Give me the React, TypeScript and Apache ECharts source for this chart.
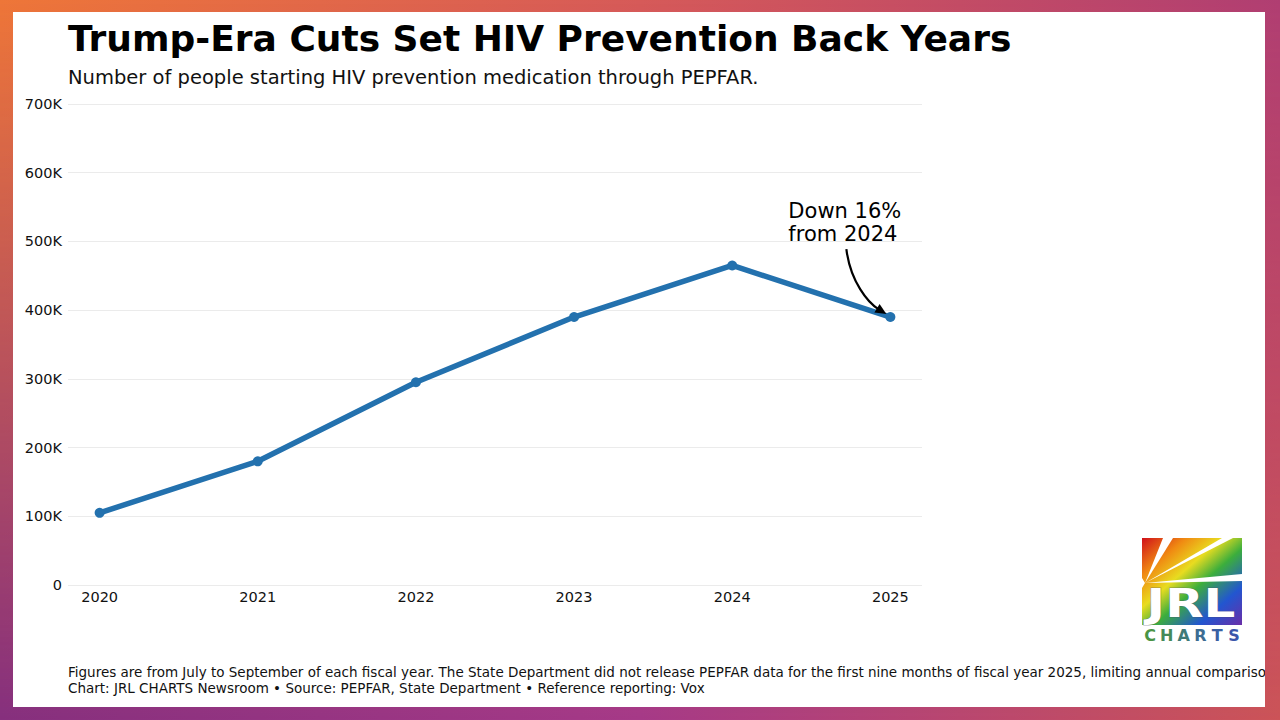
import React, { useEffect, useRef } from "react";
import * as echarts from "echarts";

const years = [2020, 2021, 2022, 2023, 2024, 2025];
const starts = [105000, 180000, 295000, 390000, 465000, 390000];
const yMax = 700000;
const yStep = 100000;

const titleText = "Trump-Era Cuts Set HIV Prevention Back Years";
const subtitleText = "Number of people starting HIV prevention medication through PEPFAR.";
const noteLine1 =
  "Figures are from July to September of each fiscal year. The State Department did not release PEPFAR data for the first nine months of fiscal year 2025, limiting annual comparisons.";
const noteLine2 = "Chart: JRL CHARTS Newsroom \u2022 Source: PEPFAR, State Department \u2022 Reference reporting: Vox";
const annotationText = "Down 16%\nfrom 2024";
const logoLetters = ["C", "H", "A", "R", "T", "S"];
const logoLetterColors = ["#4a9444", "#458a5a", "#407a78", "#3c6c92", "#3a60a2", "#3a56aa"];

const FONT = "'DejaVu Sans', sans-serif";
const LINE = "#2371ae";

export default function App() {
  const ref = useRef<HTMLDivElement>(null);

  useEffect(() => {
    if (!ref.current) return;
    const chart = echarts.init(ref.current, null, { renderer: "svg" });
    const data = years.map((y, i) => [y, starts[i]]);

    chart.setOption({
      animation: false,
      backgroundColor: "#ffffff",
      textStyle: { fontFamily: FONT },
      grid: { left: 55, right: 343, top: 92, bottom: 122, containLabel: false },
      xAxis: {
        type: "value",
        min: years[0] - 0.2,
        max: years[years.length - 1] + 0.2,
        axisLine: { show: false },
        axisTick: { show: false },
        splitLine: { show: false },
        axisLabel: {
          customValues: years,
          formatter: (v: number) => String(Math.round(v)),
          color: "#111",
          fontSize: 14.5,
          fontFamily: FONT,
          margin: 4,
        },
      },
      yAxis: {
        type: "value",
        min: 0,
        max: yMax,
        interval: yStep,
        axisLine: { show: false },
        axisTick: { show: false },
        splitLine: { show: true, lineStyle: { color: "#ebebeb", width: 1 } },
        axisLabel: {
          formatter: (v: number) => (v === 0 ? "0" : v / 1000 + "K"),
          color: "#111",
          fontSize: 14.5,
          fontFamily: FONT,
          margin: 6,
        },
      },
      series: [
        {
          type: "line",
          data,
          lineStyle: { color: LINE, width: 5.5 },
          itemStyle: { color: LINE },
          symbol: "circle",
          symbolSize: 10,
          z: 3,
        },
      ],
      graphic: [
        {
          id: "title",
          type: "text",
          left: 55,
          top: 8,
          style: { text: titleText, font: `bold 36px ${FONT}`, fill: "#000" },
        },
        {
          id: "subtitle",
          type: "text",
          left: 55,
          top: 55,
          style: { text: subtitleText, font: `19.5px ${FONT}`, fill: "#111" },
        },
        {
          id: "note1",
          type: "text",
          left: 55,
          top: 653,
          style: { text: noteLine1, font: `13.5px ${FONT}`, fill: "#111" },
        },
        {
          id: "note2",
          type: "text",
          left: 55,
          top: 669,
          style: { text: noteLine2, font: `13.5px ${FONT}`, fill: "#111" },
        },
        {
          id: "logoGroup",
          type: "group",
          x: 1129,
          y: 526,
          children: [
            {
              type: "rect",
              shape: { x: 0, y: 0, width: 100, height: 87 },
              style: {
                fill: new echarts.graphic.LinearGradient(0, 0, 1, 1, [
                  { offset: 0, color: "#d0101a" },
                  { offset: 0.22, color: "#f08a12" },
                  { offset: 0.4, color: "#e8dc20" },
                  { offset: 0.56, color: "#3cae3c" },
                  { offset: 0.78, color: "#2256d0" },
                  { offset: 1, color: "#6a2ea8" },
                ]),
              },
            },
            { type: "polygon", shape: { points: [[3, 45], [21, 0], [31, 0]] }, style: { fill: "#fff" } },
            { type: "polygon", shape: { points: [[3, 45], [80, 0], [91, 0]] }, style: { fill: "#fff" } },
            { type: "polygon", shape: { points: [[3, 45], [100, 36], [100, 43]] }, style: { fill: "#fff" } },
            { type: "polygon", shape: { points: [[0, 40], [3, 45], [0, 50]] }, style: { fill: "#fff" } },
            {
              type: "text",
              x: 49,
              y: 66,
              scaleX: 1.28,
              style: {
                text: "JRL",
                font: `bold 39px ${FONT}`,
                fill: "#fff",
                align: "center",
                verticalAlign: "middle",
                stroke: "rgba(70,70,110,0.45)",
                lineWidth: 1,
              },
            },
            ...logoLetters.map((ch, i) => ({
              type: "text",
              x: 8 + i * 16.8,
              y: 97,
              style: {
                text: ch,
                font: `bold 16px ${FONT}`,
                align: "center",
                verticalAlign: "middle",
                fill: logoLetterColors[i],
              },
            })),
          ],
        },
      ],
    });

    const [px, py] = chart.convertToPixel({ xAxisIndex: 0, yAxisIndex: 0 }, [
      years[years.length - 1],
      starts[starts.length - 1],
    ]);
    const sx = px - 44;
    const sy = py - 68;
    const ex = px - 4;
    const ey = py - 3;
    const c1x = px - 40;
    const c1y = py - 35;
    const c2x = px - 22;
    const c2y = py - 14;
    const ang = Math.atan2(ey - c2y, ex - c2x);
    const hl = 11;
    const hw = 5;
    const bx = ex - hl * Math.cos(ang);
    const by = ey - hl * Math.sin(ang);
    const nx = -Math.sin(ang);
    const ny = Math.cos(ang);

    chart.setOption({
      graphic: [
        {
          id: "annot",
          type: "text",
          x: px - 102,
          y: py - 118,
          style: {
            text: annotationText,
            font: `21px ${FONT}`,
            fill: "#000",
            lineHeight: 23,
            verticalAlign: "top",
          },
          z: 10,
        },
        {
          id: "arrowCurve",
          type: "bezierCurve",
          shape: {
            x1: sx,
            y1: sy,
            cpx1: c1x,
            cpy1: c1y,
            cpx2: c2x,
            cpy2: c2y,
            x2: bx + 2 * Math.cos(ang),
            y2: by + 2 * Math.sin(ang),
          },
          style: { stroke: "#000", lineWidth: 2.2, fill: "none" },
          z: 10,
        },
        {
          id: "arrowHead",
          type: "polygon",
          shape: {
            points: [
              [ex, ey],
              [bx + nx * hw, by + ny * hw],
              [bx - nx * hw, by - ny * hw],
            ],
          },
          style: { fill: "#000" },
          z: 10,
        },
      ],
    });

    return () => chart.dispose();
  }, []);

  return (
    <div
      style={{
        position: "fixed",
        left: 0,
        top: 0,
        width: 1280,
        height: 720,
        overflow: "hidden",
        background: "linear-gradient(to right, #86307e 0%, #a63a88 50%, #cc5458 100%)",
      }}
    >
      <div
        style={{
          position: "absolute",
          inset: 0,
          background: "linear-gradient(to right, #ee7638 0%, #d65a58 50%, #b03e72 100%)",
          WebkitMaskImage: "linear-gradient(to bottom, #000 0%, rgba(0,0,0,0.55) 45%, transparent 100%)",
          maskImage: "linear-gradient(to bottom, #000 0%, rgba(0,0,0,0.55) 45%, transparent 100%)",
        }}
      />
      <div
        style={{
          position: "absolute",
          left: 13,
          top: 12,
          width: 1252,
          height: 695,
          background: "#fff",
          overflow: "hidden",
        }}
      >
        <div ref={ref} style={{ width: 1252, height: 695 }} />
      </div>
    </div>
  );
}
